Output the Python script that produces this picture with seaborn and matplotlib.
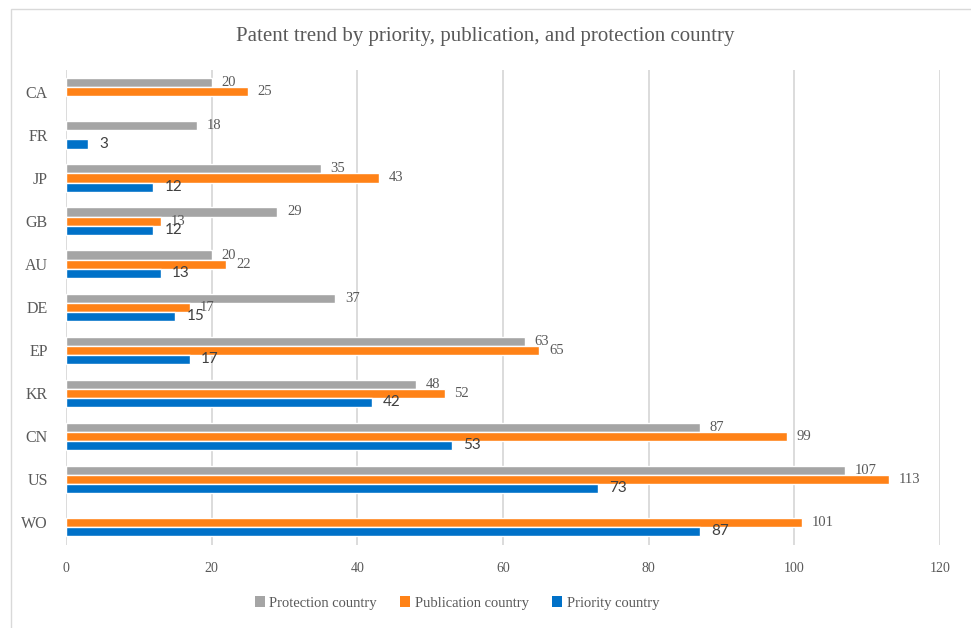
import matplotlib
matplotlib.use("Agg")
import matplotlib.pyplot as plt
import seaborn as sns
import pandas as pd
import numpy as np
from matplotlib.patches import Rectangle, Patch

countries = ["CA", "FR", "JP", "GB", "AU", "DE", "EP", "KR", "CN", "US", "WO"]
protection = [20, 18, 35, 29, 20, 37, 63, 48, 87, 107, None]
publication = [25, None, 43, 13, 22, 17, 65, 52, 99, 113, 101]
priority = [None, 3, 12, 12, 13, 15, 17, 42, 53, 73, 87]
series = ["Protection country", "Publication country", "Priority country"]
colors = ["#A5A5A5", "#FF8217", "#0071C8"]
xticks = [0, 20, 40, 60, 80, 100, 120]
title = "Patent trend by priority, publication, and protection country"

rows = []
for s, vals in zip(series, [protection, publication, priority]):
    for c, v in zip(countries, vals):
        if v is not None:
            rows.append({"country": c, "series": s, "value": v})
df = pd.DataFrame(rows)

sns.set_theme(style="white")
plt.rcParams["font.family"] = ["Liberation Serif", "DejaVu Serif"]

fig = plt.figure(figsize=(9.71, 6.28), dpi=100)
ax = fig.add_axes([66/971, 1-545/628, (940-66)/971, (545-70)/628])

sns.barplot(data=df, y="country", x="value", hue="series", order=countries,
            hue_order=series, palette=colors, orient="h", width=0.63,
            dodge=True, ax=ax, legend=False, saturation=1, errorbar=None)

for i, cont in enumerate(ax.containers):
    if i < 2:
        ax.bar_label(cont, padding=7, fontsize=10.5, color="#595959",
                     family=["Liberation Serif"])
    else:
        ax.bar_label(cont, padding=8, fontsize=11, color="#404040",
                     family=["Lato", "DejaVu Sans"])

ax.set_xlim(0, 120)
ax.set_ylim(10.53, -0.51)
ax.set_xticks(xticks)
ax.set_xticklabels([str(t) for t in xticks])
ax.grid(axis="x", color="#D9D9D9", linewidth=1.3)
ax.set_axisbelow(True)
for sp in ax.spines.values():
    sp.set_visible(False)
ax.tick_params(axis="both", length=0, colors="#595959")
ax.tick_params(axis="x", pad=12, labelsize=10)
ax.tick_params(axis="y", pad=13, labelsize=11.5)
ax.set_xlabel("")
ax.set_ylabel("")

fig.text(0.5, 1-37/628, title, ha="center", va="center", fontsize=15, color="#595959")

handles = [Patch(facecolor=c, edgecolor="none") for c in colors]
fig.legend(handles, series, loc="center", bbox_to_anchor=(457/971, 1-603/628), ncol=3,
           frameon=False, fontsize=10.5, labelcolor="#595959", handlelength=0.7,
           handleheight=0.7, handletextpad=0.3, columnspacing=1.6)

fig.patches.append(Rectangle((11/971, -0.1), 1.2, 1.1-9/628, transform=fig.transFigure,
                             fill=False, edgecolor="#D9D9D9", linewidth=1.0))

fig.savefig("out.png", dpi=100)
